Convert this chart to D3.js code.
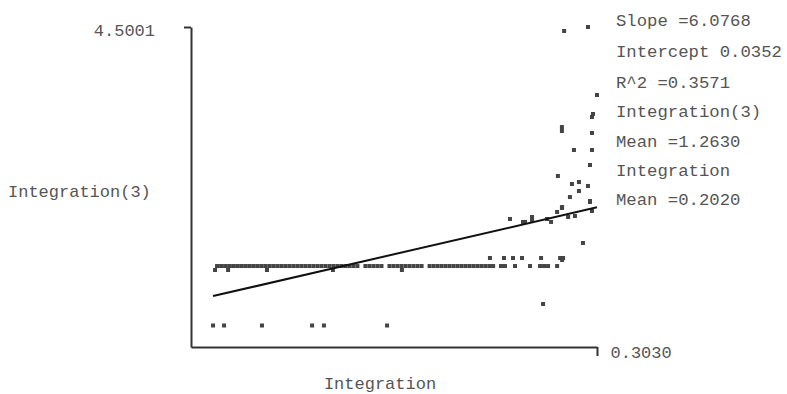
<!DOCTYPE html>
<html>
<head>
<meta charset="utf-8">
<script src="https://cdn.jsdelivr.net/npm/d3@7"></script>
<style>
  html, body { margin: 0; padding: 0; background: #fff; }
  svg { display: block; }
  text { font-family: "Liberation Mono", "Courier New", monospace; fill: #555; }
</style>
</head>
<body>
<svg id="chart" width="787" height="394"></svg>
<script>
// ---- data ----
const xLabel = "Integration";
const yLabel = "Integration(3)";
const xDomain = [0.143, 0.3455];
const yDomain = [0.3030, 4.5001];
const statsLabels = ["Slope =6.0768", "Intercept 0.0352", "R^2 =0.3571", "Integration(3)", "Mean =1.2630", "Integration", "Mean =0.2020"];
const slope = 6.0768;
const intercept = 0.0352;
const lineX = [0.154, 0.3455];

// dense row of points at y = 1.365
const rowY = 1.365;
const rowX = [0.156,0.158,0.160,0.162,0.164,0.166,0.168,0.170,0.172,0.174,0.176,0.178,0.180,0.182,0.184,0.186,0.188,0.190,0.192,0.194,0.196,0.198,0.200,0.202,0.204,0.206,0.208,0.210,0.212,0.214,0.216,0.218,0.220,0.222,0.224,0.226,0.230,0.232,0.234,0.236,0.238,0.242,0.244,0.246,0.248,0.250,0.252,0.254,0.256,0.258,0.262,0.264,0.266,0.268,0.270,0.272,0.274,0.276,0.278,0.280,0.282,0.284,0.286,0.288,0.290,0.292,
  0.2937,0.2976,0.2996,0.3046,0.3121,0.3171,0.3191,0.3211,0.3256];

// remaining points
const otherX = [0.155,0.1615,0.1809,0.2138,0.2482,
  0.154,0.1595,0.1784,0.2034,0.2093,0.2408,
  0.2921,0.2991,0.3036,0.3081,0.3176,0.3271,0.3286,0.3281,
  0.3186,
  0.3021,0.3086,0.3096,0.3131,0.3131,0.3206,0.3226,0.3256,0.3281,0.3311,0.3345,0.343,0.342,0.3385,
  0.3291,0.341,0.3455,0.343,0.3435,0.328,0.328,0.343,0.334,0.343,0.342,0.326,0.333,0.3365,0.341,0.3365,0.332,0.342,0.328];
const otherY = [1.313,1.313,1.313,1.313,1.313,
  0.585,0.585,0.585,0.585,0.585,0.585,
  1.470,1.470,1.470,1.470,1.470,1.470,1.470,1.444,
  0.867,
  1.982,1.943,1.943,2.008,1.969,1.982,1.943,2.074,2.139,2.008,2.021,2.087,2.218,1.667,
  4.448,4.500,3.608,3.320,3.359,3.188,3.136,3.110,2.887,2.887,2.690,2.546,2.441,2.467,2.415,2.349,2.270,2.205,2.126];

// ---- chart ----
const svg = d3.select("#chart");
const x = d3.scaleLinear().domain(xDomain).range([191, 597]);
const y = d3.scaleLinear().domain(yDomain).range([347, 27]);

const points = rowX.map(v => ({x: v, y: rowY}))
  .concat(otherX.map((v, i) => ({x: v, y: otherY[i]})));

const ps = 4;
svg.append("g").selectAll("rect").data(points).join("rect")
  .attr("x", d => x(d.x) - ps / 2)
  .attr("y", d => y(d.y) - ps / 2)
  .attr("width", ps).attr("height", ps)
  .attr("fill", "#444");

// regression line
svg.append("line")
  .attr("x1", x(lineX[0])).attr("y1", y(slope * lineX[0] + intercept))
  .attr("x2", x(lineX[1])).attr("y2", y(slope * lineX[1] + intercept))
  .attr("stroke", "#111").attr("stroke-width", 2);

// left axis
const yAxis = svg.append("g").attr("transform", "translate(191,0)")
  .call(d3.axisLeft(y).tickValues([yDomain[1]]).tickSize(7).tickSizeOuter(0)
    .tickPadding(29).tickFormat(d3.format(".4f")));
// bottom axis
const xAxis = svg.append("g").attr("transform", "translate(0,347)")
  .call(d3.axisBottom(x).tickValues([xDomain[1]]).tickSize(9).tickSizeOuter(0)
    .tickFormat(() => d3.format(".4f")(yDomain[0])));

[yAxis, xAxis].forEach(g => {
  g.select(".domain").attr("stroke", "#333").attr("stroke-width", 2);
  g.selectAll(".tick line").attr("stroke", "#333").attr("stroke-width", 2);
  g.selectAll("text").attr("font-size", 17).attr("fill", "#555")
    .style("font-family", '"Liberation Mono", "Courier New", monospace');
});
xAxis.selectAll(".tick text").attr("text-anchor", "start").attr("x", 13).attr("y", 5).attr("dy", "0.35em");
yAxis.selectAll(".tick text").attr("dy", "0.35em").attr("y", 3);

// axis titles
svg.append("text").attr("x", 8).attr("y", 197).attr("font-size", 17).text(yLabel);
svg.append("text").attr("x", 380).attr("y", 389).attr("font-size", 17)
  .attr("text-anchor", "middle").text(xLabel);

// stats annotations
const statY = [26, 57, 88, 117, 147, 176, 205];
svg.append("g").selectAll("text").data(statsLabels).join("text")
  .attr("x", 616).attr("y", (d, i) => statY[i])
  .attr("font-size", 17.3).text(d => d);
</script>
</body>
</html>
